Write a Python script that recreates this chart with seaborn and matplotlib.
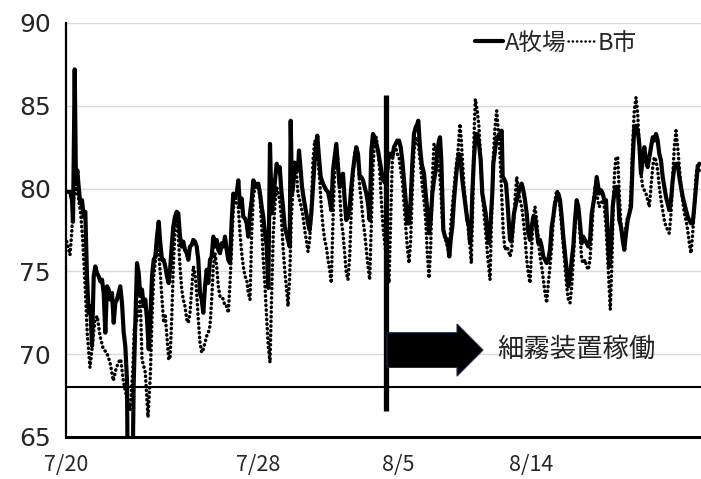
import matplotlib
matplotlib.use("Agg")
import matplotlib.pyplot as plt
import seaborn as sns
import pandas as pd
from matplotlib.patches import FancyArrow
from matplotlib.lines import Line2D

# ---------------- data (x = hour index from 7/20, y = value) ----------------
a_hours = [2.0, 4.3, 6.0, 7.0, 8.7, 10.0, 11.3, 12.7, 14.3, 16.0, 17.7, 19.3, 21.0, 22.7, 24.3, 26.0,
           27.7, 29.3, 31.0, 32.7, 34.3, 36.0, 37.7, 39.3, 41.0, 42.7, 44.3, 46.0, 47.7, 49.3, 51.0,
           52.7, 54.3, 56.0, 57.7, 59.3, 61.0, 62.0, 66.0, 67.7, 69.3, 71.0, 72.7, 74.3, 76.0, 77.7,
           79.3, 81.0, 82.7, 84.3, 86.0, 87.7, 89.3, 91.0, 92.7, 94.3, 96.0, 97.7, 99.3, 101.0, 102.7,
           104.3, 105.7, 107.3, 109.0, 110.7, 112.3, 114.0, 115.7, 117.3, 119.0, 120.7, 122.3, 124.0,
           125.7, 127.3, 129.0, 130.7, 132.3, 134.0, 135.7, 137.3, 139.0, 140.7, 142.3, 144.0, 145.7,
           147.3, 149.0, 150.7, 152.3, 154.0, 155.7, 157.3, 159.0, 160.7, 162.3, 164.0, 165.7, 167.3,
           169.0, 170.7, 172.3, 174.0, 175.7, 177.3, 179.0, 180.7, 182.3, 184.0, 185.7, 187.3, 189.0,
           190.7, 192.3, 194.0, 195.7, 197.3, 199.0, 200.7, 202.3, 204.0, 205.7, 207.3, 209.0, 210.7,
           212.3, 213.7, 215.3, 217.0, 218.7, 220.3, 222.0, 223.7, 224.7, 226.0, 227.0, 228.7, 230.3,
           232.0, 233.0, 234.7, 236.0, 238.0, 240.3, 242.0, 243.7, 245.3, 247.0, 248.7, 250.3, 251.3,
           252.7, 254.7, 257.0, 258.7, 260.3, 262.0, 263.7, 265.3, 267.0, 268.7, 270.3, 272.0, 273.7,
           275.3, 277.0, 278.7, 280.3, 282.0, 283.7, 285.3, 287.0, 288.7, 290.3, 292.0, 293.7, 295.3,
           297.0, 298.7, 300.3, 302.0, 303.7, 305.3, 307.0, 308.7, 310.3, 312.0, 313.7, 315.3, 317.0,
           320.0, 323.0, 324.7, 326.3, 328.0, 329.7, 331.3, 333.0, 334.7, 336.3, 338.0, 339.7, 341.3,
           343.0, 344.7, 346.3, 348.0, 349.7, 351.3, 352.3, 354.0, 355.7, 358.0, 359.7, 361.3, 363.0,
           364.7, 366.3, 368.0, 369.7, 371.3, 373.0, 374.0, 375.3, 376.3, 377.3, 379.0, 380.7, 382.3,
           383.3, 384.7, 386.3, 388.0, 389.7, 391.3, 393.0, 394.7, 396.3, 398.0, 399.7, 401.3, 403.0,
           404.0, 405.3, 406.3, 408.0, 409.7, 411.3, 413.0, 414.7, 416.3, 418.0, 419.7, 421.3, 423.0,
           424.7, 426.3, 427.3, 429.0, 430.7, 432.3, 434.0, 435.7, 436.7, 438.0, 440.0, 441.3, 442.7,
           444.0, 445.3, 446.7, 448.0, 449.3, 450.7, 452.3, 454.0, 455.7, 457.3, 459.0, 460.7, 462.3,
           464.0, 465.7, 467.3, 469.0, 470.7, 472.3, 474.0, 475.7, 477.3, 479.0, 480.7, 482.3, 484.0,
           485.7, 487.3, 489.0, 490.7, 492.3, 494.0, 495.7, 497.3, 499.0, 500.7, 502.3, 504.0, 505.7,
           507.3, 509.0, 510.7, 512.3, 514.0, 515.7, 517.3, 519.0, 520.7, 522.3, 524.0, 525.7, 527.3,
           529.0, 530.7, 532.3, 533.3, 535.0, 536.7, 538.3, 540.0, 541.7, 543.3, 545.0, 546.7, 548.3,
           550.0, 551.7, 553.3, 555.0, 556.7, 558.3, 560.0, 561.7, 563.3, 565.0, 566.7, 568.3, 570.0,
           571.7, 573.3, 575.0, 576.7, 578.3, 580.0, 581.7, 583.3, 585.0, 586.7, 588.3, 590.0, 591.7,
           593.3, 595.0, 596.7, 598.3, 600.0, 601.7, 603.3, 605.0, 606.7, 608.3, 610.0, 611.7, 613.3,
           615.0, 616.7, 618.3, 620.0, 621.7, 623.3, 625.0, 626.7, 628.3, 630.0, 631.7, 633.3]
a_values = [79.8, 79.8, 79.3, 78.0, 87.2, 80.3, 81.1, 80.1, 79.1, 79.3, 78.3, 78.6, 74.7, 72.5, 72.9, 70.5,
            74.7, 75.3, 74.9, 74.7, 74.4, 74.5, 73.7, 71.3, 74.1, 73.9, 73.3, 73.7, 71.9, 73.1, 73.3,
            73.7, 74.1, 73.1, 71.3, 70.5, 68.4, 60.0, 60.0, 68.3, 71.9, 75.5, 74.9, 73.5, 73.9, 72.9,
            73.3, 72.1, 70.3, 72.1, 74.7, 75.7, 75.9, 77.1, 78.0, 76.7, 75.7, 75.7, 75.3, 74.7, 74.3,
            75.3, 76.5, 77.7, 78.3, 78.6, 78.5, 77.1, 76.5, 76.8, 76.3, 76.1, 75.7, 76.5,
            76.6, 76.9, 76.8, 76.5, 75.7, 73.7, 73.3, 72.5, 74.1, 75.1, 74.3, 75.7, 75.9,
            77.1, 76.5, 76.9, 76.3, 76.1, 76.7, 76.5, 77.1, 76.3, 75.7, 75.5, 78.1, 79.7,
            79.5, 79.7, 80.5, 78.9, 79.4, 78.3, 78.2, 77.9, 77.1, 78.5, 79.3, 80.5, 80.3,
            80.1, 80.3, 79.7, 78.9, 78.3, 77.3, 76.5, 74.0, 82.7, 78.5, 79.3, 80.5, 81.5,
            81.1, 81.3, 79.9, 78.9, 77.7, 77.3, 76.9, 76.5, 84.1, 79.7, 80.1, 81.1, 81.5,
            81.1, 82.3, 81.1, 80.1, 79.3, 78.5, 77.9, 77.5, 78.5, 80.1, 81.7, 82.7, 83.2,
            82.1, 80.7, 80.3, 80.1, 79.9, 79.8, 79.3, 78.7, 81.1, 81.9, 82.7, 81.3, 80.1,
            80.5, 80.9, 79.3, 78.1, 78.3, 78.9, 80.1, 81.1, 81.9, 82.5, 82.1, 80.7, 80.7,
            80.5, 80.1, 79.7, 79.1, 78.1, 82.3, 83.3, 83.1, 82.7, 82.3, 81.7, 81.1, 80.5,
            80.3, 82.1, 82.1, 81.9, 82.5, 82.7, 82.9, 82.9, 82.5, 81.7, 80.5, 79.3, 77.9,
            77.9, 79.3, 81.5, 83.3, 83.7, 83.9, 84.1, 82.5, 81.5, 80.9, 79.7, 78.7, 77.3,
            78.1, 79.7, 80.5, 81.1, 82.3, 82.9, 83.1, 81.7, 79.7, 77.5, 77.1, 76.9, 76.5,
            75.9, 76.9, 77.7, 79.3, 80.5, 81.5, 82.1, 81.7, 80.5, 79.7, 78.9, 78.1, 77.7,
            76.7, 77.7, 79.7, 81.9, 83.3, 83.3, 82.7, 81.7, 79.7, 79.1, 78.5, 77.3, 76.7,
            78.1, 79.7, 81.5, 82.3, 83.1, 83.1, 83.3, 83.5, 80.7, 80.6, 80.3, 79.3, 78.1,
            76.9, 76.8, 77.7, 78.5, 78.9, 79.3, 79.7, 80.1, 80.3, 79.9, 79.3, 78.5, 77.3,
            76.9, 77.7, 78.3, 78.3, 77.5, 76.7, 76.9, 76.5, 75.9, 75.7, 75.5, 75.7, 76.3,
            77.7, 78.3, 79.1, 79.5, 79.7, 79.3, 78.3, 77.1, 76.1, 75.1, 74.1, 74.7, 75.7,
            76.5, 78.1, 79.3, 78.9, 77.9, 76.7, 77.1, 76.9, 76.7, 76.5, 76.9, 78.5, 79.1,
            79.7, 80.7, 80.1, 79.7, 79.9, 79.7, 79.3, 79.3, 77.3, 75.3, 76.5, 78.9, 79.7,
            80.1, 80.1, 78.1, 77.7, 76.9, 76.3, 77.3, 78.1, 78.5, 78.9, 81.7, 83.7, 83.8,
            83.5, 82.7, 80.9, 81.7, 82.5, 81.7, 81.3, 81.9, 82.5, 83.1, 82.9, 83.3, 82.9,
            82.1, 81.7, 80.7, 80.1, 79.5, 79.1, 78.7, 79.3, 80.5, 81.3, 81.5, 81.5, 80.7,
            80.1, 79.5, 79.1, 78.7, 78.3, 78.1, 77.9, 77.9, 78.9, 80.1, 81.3, 81.5]

b_hours = [0.7, 4.0, 5.7, 7.3, 10.0, 12.3, 14.7, 16.7, 19.0, 21.3, 24.0, 27.0, 29.0, 31.3, 34.0, 37.3,
           40.7, 44.0, 47.3, 50.0, 52.3, 54.7, 57.3, 60.7, 64.0, 66.7, 68.3, 71.0, 74.3, 76.0, 79.3,
           82.0, 84.3, 86.0, 87.7, 91.0, 92.7, 94.3, 96.0, 97.7, 99.3, 102.7, 104.0, 105.7, 107.3,
           109.0, 110.7, 112.3, 114.0, 115.7, 117.3, 119.0, 120.7, 122.3, 124.0, 125.7, 127.3, 129.0,
           130.7, 132.3, 134.0, 135.7, 137.3, 139.0, 140.7, 142.3, 144.0, 145.7, 147.3, 149.0, 150.7,
           152.3, 154.0, 155.7, 157.3, 159.0, 160.7, 162.3, 164.0, 165.7, 167.3, 169.0, 170.7, 172.3,
           174.0, 175.7, 177.3, 179.0, 180.7, 182.3, 184.0, 185.7, 187.3, 189.0, 190.7, 192.3, 194.0,
           195.7, 197.3, 199.0, 200.7, 202.3, 204.0, 205.7, 207.3, 209.0, 210.7, 212.3, 213.7, 215.3,
           217.0, 218.7, 220.3, 222.0, 223.7, 225.3, 227.0, 228.7, 230.3, 232.0, 233.7, 235.3, 237.0,
           238.7, 240.3, 242.0, 243.7, 245.3, 247.0, 248.7, 250.3, 252.0, 253.7, 255.3, 257.0, 258.7,
           260.3, 262.0, 263.7, 265.3, 267.0, 268.7, 270.3, 272.0, 273.7, 275.3, 277.0, 278.7, 280.3,
           282.0, 283.7, 285.3, 287.0, 288.7, 290.3, 292.0, 293.7, 295.3, 297.0, 298.7, 300.3, 302.0,
           303.7, 305.3, 307.0, 308.7, 310.3, 312.0, 313.7, 315.3, 317.0, 320.0, 323.0, 324.7, 326.3,
           328.0, 329.7, 331.3, 333.0, 334.7, 336.3, 338.0, 339.7, 341.3, 343.0, 344.7, 346.3, 348.0,
           349.7, 351.3, 353.0, 354.7, 356.3, 358.0, 359.7, 361.3, 363.0, 364.7, 366.3, 368.0, 369.7,
           371.3, 373.0, 374.7, 376.3, 378.0, 379.7, 381.3, 383.0, 384.7, 386.3, 389.7, 392.0, 394.0,
           395.3, 398.0, 401.3, 404.0, 405.3, 406.7, 408.0, 409.3, 411.3, 413.0, 414.7, 416.3, 419.7,
           422.0, 424.0, 425.7, 427.3, 429.0, 430.7, 432.3, 434.0, 435.7, 437.3, 439.0, 440.7, 442.3,
           444.0, 445.7, 447.3, 449.0, 450.7, 452.3, 454.0, 455.7, 457.3, 459.0, 460.7, 462.3, 464.0,
           465.7, 467.3, 469.0, 470.7, 472.3, 474.0, 475.7, 477.3, 479.0, 480.7, 482.3, 484.0, 485.7,
           487.3, 489.0, 490.7, 492.3, 494.0, 495.7, 497.3, 499.0, 500.7, 502.3, 504.0, 505.7, 507.3,
           509.0, 510.7, 512.3, 514.0, 515.7, 517.3, 519.0, 520.7, 522.3, 524.0, 525.7, 527.3, 529.0,
           530.7, 531.7, 533.3, 535.0, 536.7, 538.3, 540.0, 541.7, 543.3, 544.3, 546.0, 547.3, 548.7,
           550.0, 551.7, 553.3, 555.0, 556.7, 558.3, 560.0, 561.7, 563.3, 565.0, 566.7, 568.3, 570.0,
           571.7, 573.3, 575.0, 576.7, 578.3, 580.0, 581.7, 583.3, 585.0, 586.7, 588.3, 590.0, 591.7,
           593.3, 595.0, 596.7, 598.3, 600.0, 601.7, 603.3, 605.0, 606.7, 608.3, 610.0, 611.7, 613.3,
           615.0, 616.7, 618.3, 620.0, 621.7, 623.3, 625.0, 626.7, 628.3, 630.0, 631.7, 633.3]
b_values = [76.8, 76.0, 77.3, 79.3, 80.1, 79.5, 78.5, 76.9, 74.3, 71.2, 69.2, 70.9, 72.1, 72.3, 71.1, 70.3,
            70.1, 69.5, 68.4, 69.1, 69.5, 69.7, 68.4, 67.4, 66.6, 68.9, 71.5, 72.1, 73.3, 69.7, 68.9,
            66.2, 68.7, 72.1, 74.7, 76.5, 76.1, 74.9, 73.3, 71.9, 72.3, 69.7, 69.7, 72.1, 75.3,
            77.5, 78.3, 77.1, 75.3, 73.9, 73.3, 72.9, 72.1, 71.9, 72.5, 73.9, 75.3, 74.9,
            73.7, 72.1, 70.7, 70.1, 70.3, 70.7, 71.1, 71.3, 71.7, 73.3, 75.3, 76.1, 75.3,
            74.1, 73.5, 73.5, 73.3, 72.9, 72.9, 72.5, 74.3, 76.5, 78.7, 79.7, 79.1, 78.9,
            77.3, 76.1, 75.3, 74.7, 74.5, 73.7, 73.3, 77.3, 79.5, 80.1, 80.1, 80.1, 79.5,
            77.7, 75.7, 74.1, 72.1, 70.5, 69.5, 73.7, 77.3, 79.1, 80.1, 79.7, 79.3, 78.3,
            76.5, 75.1, 74.1, 72.9, 74.7, 78.1, 80.1, 81.7, 81.1, 79.7, 79.3, 78.9, 78.3,
            77.5, 76.9, 76.2, 76.9, 78.7, 81.7, 82.9, 82.7, 81.7, 80.5, 78.9, 77.7, 76.9,
            76.5, 75.7, 75.1, 74.3, 78.1, 81.3, 82.5, 81.7, 79.7, 78.1, 77.3, 76.1, 74.9,
            74.5, 75.9, 78.7, 80.7, 82.1, 82.5, 81.9, 80.1, 79.3, 78.1, 77.3, 76.3, 75.3,
            74.5, 77.7, 81.3, 82.9, 83.1, 82.3, 81.1, 79.3, 77.7, 76.0, 74.3, 78.1, 81.7,
            82.3, 82.5, 82.1, 81.9, 81.1, 80.5, 79.1, 77.7, 76.5, 75.5, 76.9, 79.9, 82.3,
            82.9, 83.1, 82.3, 81.3, 80.1, 79.3, 78.1, 76.1, 74.6, 76.5, 80.5, 82.7, 82.5,
            81.9, 81.3, 80.1, 78.1, 77.3, 76.9, 76.5, 76.1, 77.7, 78.9, 81.1, 82.3, 83.9,
            82.9, 80.1, 78.1, 76.5, 75.5, 78.9, 83.1, 85.4, 84.7, 83.7, 81.7, 79.7, 77.3,
            75.7, 74.5, 78.5, 81.9, 83.7, 84.7, 83.5, 82.1, 79.7, 77.3, 76.3, 76.5, 76.3,
            75.9, 76.3, 77.7, 79.3, 80.7, 80.1, 79.3, 78.9, 78.1, 77.1, 75.7, 74.9, 74.3,
            76.5, 78.3, 78.9, 78.1, 76.9, 75.9, 75.3, 74.5, 73.7, 73.1, 74.3, 75.3, 76.5,
            78.1, 79.3, 79.9, 79.7, 78.9, 77.7, 76.5, 75.3, 74.1, 73.3, 73.1, 74.1, 75.7,
            77.7, 79.3, 78.9, 77.3, 75.7, 75.5, 75.7, 75.3, 75.1, 75.7, 77.3, 79.1, 80.1,
            80.1, 79.3, 78.9, 79.1, 79.3, 78.9, 77.7, 75.7, 73.7, 72.7, 75.7, 79.3, 81.1,
            81.9, 81.9, 79.7, 77.7, 77.3, 76.9, 77.7, 78.3, 78.5, 79.7, 82.7, 84.7, 85.5,
            84.5, 82.5, 80.9, 80.1, 79.9, 79.7, 79.3, 78.9, 80.1, 81.3, 81.9, 81.7, 81.1,
            80.1, 79.3, 78.7, 78.1, 77.7, 77.5, 77.3, 78.5, 80.7, 82.5, 83.5, 82.5, 81.3,
            80.1, 79.3, 78.5, 78.1, 77.5, 76.7, 76.1, 77.3, 78.9, 80.7, 81.5, 81.1]

series_names = ["A牧場", "B市"]
tick_hours = [0, 192, 332, 465]
tick_labels = ["7/20", "7/28", "8/5", "8/14"]
y_ticks = [65, 70, 75, 80, 85, 90]
threshold = 68
start_hour = 320
annotation = "細霧装置稼働"

# ---------------- figure ----------------
sns.set_theme(style="white")
plt.rcParams["font.family"] = ["Noto Sans CJK JP", "DejaVu Sans"]

fig = plt.figure(figsize=(7.01, 4.79), dpi=100)
ax = fig.add_axes([66 / 701, 42 / 479, 1 - 66 / 701, 414 / 479])

df_a = pd.DataFrame({"hour": a_hours, "value": a_values})
df_b = pd.DataFrame({"hour": b_hours, "value": b_values})

dot_style = (0, (0.1, 1.25))
sns.lineplot(data=df_b, x="hour", y="value", ax=ax, color="black", lw=2.5,
             linestyle=dot_style, estimator=None, sort=False, zorder=3)
sns.lineplot(data=df_a, x="hour", y="value", ax=ax, color="black", lw=3.0,
             estimator=None, sort=False, zorder=4)
lines = ax.get_lines()
lines[0].set_dash_capstyle("round")
lines[1].set_solid_joinstyle("round")

ax.set_xlim(0, 635)
ax.set_ylim(65, 90)
ax.set_yticks(y_ticks)
ax.set_xticks(tick_hours)
ax.set_xticklabels(tick_labels, fontsize=15.5)
ax.set_yticklabels([str(v) for v in y_ticks], fontsize=18, family="DejaVu Sans")
ax.tick_params(axis="x", length=0, pad=12)
ax.tick_params(axis="y", length=0, pad=11)
ax.set_xlabel("")
ax.set_ylabel("")

ax.grid(axis="y", color="#d9d9d9", lw=1.0)
ax.grid(axis="x", visible=False)
for s in ["top", "right"]:
    ax.spines[s].set_visible(False)
ax.spines["left"].set_color("black")
ax.spines["left"].set_linewidth(1.6)
ax.spines["bottom"].set_color("black")
ax.spines["bottom"].set_linewidth(2.2)
ax.spines["bottom"].set_zorder(6)

ax.axhline(threshold, color="black", lw=1.5, zorder=5)
ax.vlines(start_hour, 66.6, 85.65, color="black", lw=3.8, zorder=6)

arrow = FancyArrow(start_hour + 1, 70.25, 96, 0, width=2.1, head_width=3.15,
                   head_length=26, length_includes_head=True,
                   fc="black", ec="#1f2d4d", lw=0.8, zorder=6)
ax.add_patch(arrow)
ax.text(431, 70.3, annotation, fontsize=19, va="center", ha="left", color="#222222",
        zorder=7)

handles = [Line2D([], [], color="black", lw=3.0),
           Line2D([], [], color="black", lw=1.8, linestyle=(0, (0.1, 1.6)),
                  dash_capstyle="round")]
leg = fig.legend(handles, series_names, loc="center", bbox_to_anchor=(556 / 701, 1 - 43 / 479),
                 ncol=2, frameon=False, fontsize=17, handlelength=1.2, handletextpad=0.05,
                 columnspacing=0.1, borderpad=0)

fig.savefig("out.png", dpi=100)
